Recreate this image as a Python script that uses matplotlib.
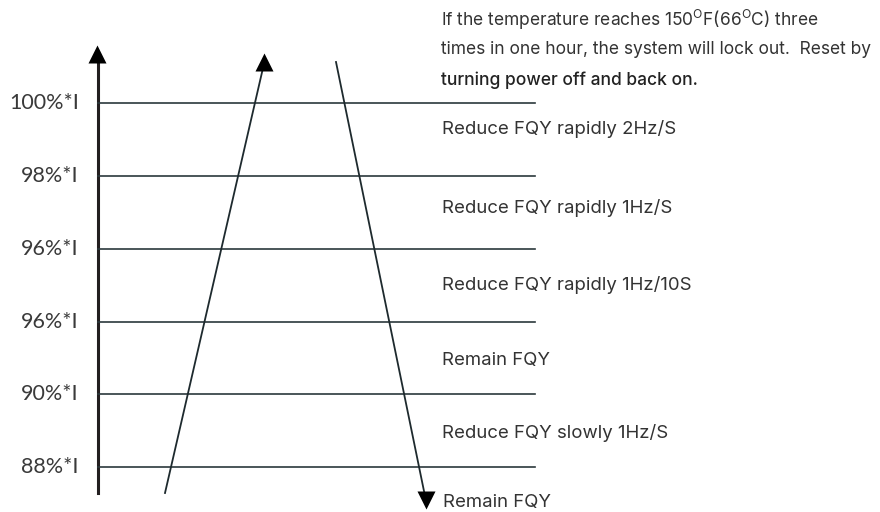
import matplotlib.pyplot as plt

plt.rcParams['font.family'] = ['Inter', 'DejaVu Sans']

# current levels (left labels) and their line positions
levels = ["100%*I", "98%*I", "96%*I", "96%*I", "90%*I", "88%*I"]
level_y = [103, 176, 249, 322, 394, 467]

# actions between the levels
zones = ["Reduce FQY rapidly 2Hz/S", "Reduce FQY rapidly 1Hz/S",
         "Reduce FQY rapidly 1Hz/10S", "Remain FQY", "Reduce FQY slowly 1Hz/S"]
zone_y = [129, 208, 285, 360, 433]

# rising and falling trend lines
rise_x = [165, 263]
rise_y = [493, 68]
fall_x = [336, 425]
fall_y = [62, 496]

note = ["If the temperature reaches 150$\\mathregular{^O}$F(66$\\mathregular{^O}$C) three",
        "times in one hour, the system will lock out.  Reset by",
        "turning power off and back on."]

fig = plt.figure(figsize=(8.8, 5.12), dpi=100)
ax = fig.add_axes([0, 0, 1, 1])
ax.set_xlim(0, 880)
ax.set_ylim(512, 0)
ax.axis('off')

txt = '#333333'
line_c = '#2b383c'

# vertical axis with arrow
ax.plot([97.5, 97.5], [493, 60], color='#231f20', lw=2.2)
ax.plot(97, 54, marker='^', color='black', ms=13, mec='none')

for lab, y in zip(levels, level_y):
    ax.plot([98, 535], [y, y], color=line_c, lw=1.2)
    ax.text(79, y, lab, ha='right', va='center', fontsize=15.5, color='#3a3a3a',
            family=['Lato', 'DejaVu Sans'])

for lab, y in zip(zones, zone_y):
    ax.text(442, y, lab, ha='left', va='center', fontsize=13.4, color=txt)

ax.plot(rise_x, rise_y, color='#1e2a2e', lw=1.3)
ax.plot(rise_x[1] + 1, 62, marker='^', color='black', ms=13, mec='none')

ax.plot(fall_x, fall_y, color='#1e2a2e', lw=1.3)
ax.plot(fall_x[1] + 1, 500, marker='v', color='black', ms=13, mec='none')
ax.text(443, 502, "Remain FQY", ha='left', va='center', fontsize=13.4, color=txt)

for i, line in enumerate(note):
    ax.text(441, 20 + i * 30, line, ha='left', va='center', fontsize=12.5,
            color='#222222' if i == 2 else txt, fontweight='medium' if i == 2 else 'normal')

fig.savefig('out.png', dpi=100)
